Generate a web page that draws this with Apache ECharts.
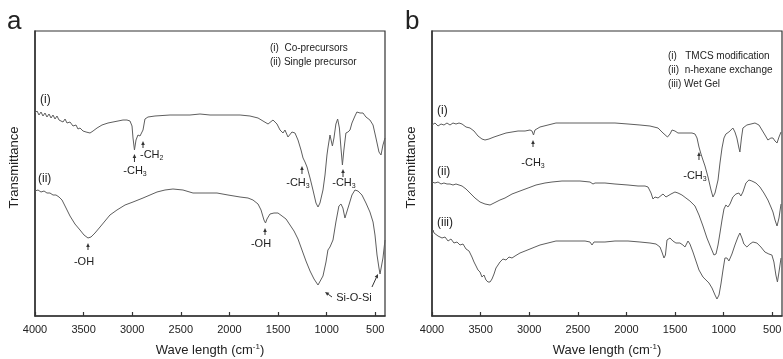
<!DOCTYPE html>
<html>
<head>
<meta charset="utf-8">
<script src="https://cdn.jsdelivr.net/npm/echarts@6/dist/echarts.min.js"></script>
<style>
html,body{margin:0;padding:0;background:#fff;}
#chart{width:783px;height:359px;}
</style>
</head>
<body>
<div id="chart"></div>
<script>
// ---- data ----
const tickValues = [4000, 3500, 3000, 2500, 2000, 1500, 1000, 500];

// Panel a, curve (i) Co-precursors : [wavenumber, transmittance (a.u.)]
const aCo = [[4000,203],[3979,205],[3959,201],[3938,204],[3918,200],[3897,203],[3877,199],[3856,202],[3835,198],[3815,201],[3794,197],[3774,200],[3753,196],[3733,198],[3712,194],[3691,197],[3671,193],[3640,194],[3609,190],[3578,191],[3558,187],[3537,188],[3506,185],[3475,184],[3455,183],[3434,183],[3403,185],[3362,188],[3311,191],[3249,193],[3198,194],[3146,195],[3095,196],[3054,196],[3023,195],[3002,190],[2992,178],[2977,166],[2961,176],[2941,181],[2920,180],[2900,178],[2889,186],[2869,197],[2838,199],[2766,200],[2611,201],[2406,201],[2303,202],[2200,201],[2046,201],[1891,201],[1789,200],[1706,198],[1655,195],[1603,192],[1552,196],[1511,192],[1480,186],[1449,183],[1429,186],[1398,179],[1357,184],[1326,183],[1295,176],[1264,166],[1243,158],[1223,154],[1202,149],[1171,138],[1141,126],[1110,113],[1089,109],[1069,113],[1038,126],[1017,141],[997,161],[987,168],[966,181],[941,170],[925,178],[905,192],[887,197],[869,188],[853,168],[838,151],[823,166],[802,183],[781,184],[760,186],[740,193],[709,200],[689,204],[657,203],[626,203],[596,199],[555,196],[523,191],[493,178],[462,164],[441,161],[421,171],[400,178]];

// Panel a, curve (ii) Single precursor
const aSingle = [[4000,125],[3969,126],[3938,124],[3907,125],[3877,123],[3846,123],[3815,121],[3784,121],[3753,119],[3722,116],[3691,110],[3640,100],[3589,92],[3537,86],[3496,81],[3455,78],[3424,79],[3383,83],[3331,89],[3280,95],[3229,101],[3157,106],[3074,111],[2992,114],[2889,118],[2817,121],[2745,124],[2663,126],[2581,127],[2478,126],[2375,123],[2251,123],[2128,123],[2015,121],[1891,119],[1809,118],[1758,116],[1706,112],[1675,106],[1645,96],[1629,93],[1614,97],[1583,102],[1542,103],[1501,103],[1459,100],[1418,97],[1377,91],[1336,85],[1295,77],[1254,66],[1213,55],[1171,45],[1130,37],[1089,31],[1069,32],[1038,40],[1007,54],[987,66],[966,69],[935,76],[905,94],[874,110],[853,112],[833,108],[812,98],[792,99],[771,111],[740,121],[709,126],[678,125],[637,121],[596,113],[555,104],[523,94],[503,81],[482,61],[462,48],[451,42],[441,44],[421,58],[400,76]];

// Panel b, curve (i) TMCS modification
const bTmcs = [[4000,191],[3969,193],[3938,190],[3907,192],[3877,191],[3846,193],[3815,191],[3784,193],[3753,192],[3722,193],[3691,192],[3650,189],[3609,188],[3568,185],[3527,180],[3486,177],[3455,176],[3414,177],[3362,179],[3301,181],[3239,183],[3177,184],[3115,185],[3043,185],[2992,186],[2971,185],[2956,181],[2941,186],[2889,189],[2807,191],[2725,193],[2581,193],[2426,193],[2272,193],[2118,193],[1984,192],[1861,191],[1758,190],[1675,188],[1624,183],[1578,179],[1552,182],[1531,186],[1501,185],[1470,183],[1398,183],[1326,183],[1295,182],[1274,178],[1254,169],[1233,162],[1213,156],[1192,150],[1161,139],[1130,126],[1110,119],[1089,123],[1058,136],[1038,153],[1017,168],[997,178],[977,182],[946,184],[905,188],[884,184],[864,178],[843,168],[833,164],[817,178],[802,188],[761,191],[719,192],[678,193],[637,191],[606,186],[575,181],[545,176],[514,178],[493,178],[472,175],[451,173],[431,179],[410,184]];

// Panel b, curve (ii) n-hexane exchange
const bHexane = [[4000,134],[3969,133],[3938,134],[3907,132],[3877,133],[3846,132],[3815,132],[3784,131],[3753,132],[3722,131],[3691,130],[3650,127],[3609,123],[3558,118],[3506,114],[3455,112],[3403,111],[3362,113],[3301,116],[3249,118],[3177,122],[3095,125],[3012,128],[2930,131],[2838,133],[2766,134],[2663,135],[2560,135],[2478,135],[2375,134],[2344,132],[2323,133],[2221,133],[2118,132],[1984,131],[1881,130],[1809,130],[1778,129],[1747,123],[1727,117],[1706,119],[1675,118],[1655,120],[1624,122],[1593,119],[1573,117],[1542,122],[1501,124],[1470,123],[1429,121],[1388,118],[1347,115],[1295,110],[1254,101],[1213,90],[1172,78],[1130,68],[1100,61],[1079,62],[1058,71],[1038,83],[1017,96],[997,107],[977,111],[956,109],[935,112],[905,119],[874,122],[843,123],[823,120],[802,124],[771,133],[740,136],[710,135],[668,133],[627,129],[586,123],[545,116],[514,109],[493,104],[472,96],[451,90],[431,98],[410,112]];

// Panel b, curve (iii) Wet Gel
const bWetGel = [[4000,81],[3990,86],[3979,83],[3959,85],[3938,80],[3918,82],[3897,78],[3866,79],[3835,75],[3805,77],[3774,73],[3743,74],[3712,71],[3681,72],[3650,67],[3619,65],[3589,59],[3568,54],[3547,50],[3527,46],[3506,44],[3486,39],[3465,41],[3445,36],[3424,34],[3403,34],[3383,37],[3362,42],[3342,48],[3321,51],[3301,54],[3270,57],[3239,56],[3208,59],[3177,58],[3146,60],[3095,63],[3043,65],[2992,67],[2941,69],[2889,71],[2807,73],[2725,75],[2632,75],[2529,75],[2426,75],[2375,74],[2354,71],[2334,74],[2221,74],[2118,75],[1984,75],[1861,74],[1758,73],[1696,72],[1655,69],[1635,64],[1614,58],[1599,61],[1583,76],[1552,78],[1522,75],[1491,73],[1450,73],[1419,71],[1398,69],[1367,75],[1347,72],[1316,64],[1285,55],[1254,46],[1213,39],[1182,36],[1151,33],[1120,28],[1089,21],[1069,17],[1048,21],[1028,32],[1007,46],[987,58],[966,58],[946,55],[915,62],[884,71],[853,79],[833,83],[812,78],[792,72],[761,69],[730,72],[699,74],[658,73],[617,69],[576,64],[535,62],[504,61],[483,54],[463,41],[447,34],[431,44],[410,58]];

// Peak annotations: arrows [tailWn, tailT, headWn, headT]
const arrowsA = [[2977,154,2977,162],[2889,168,2889,175],[1254,142,1254,150],[832,139,832,147],[3455,66,3455,73],[1634,81,1634,88],[945,19,1017,24],[534,29,472,42]];
const arrowsB = [[2961,169,2961,176],[1254,156,1254,164]];
// Peak labels: [wn, T], with texts and anchors
const labelPosA = [[2971,145],[2920,161],[1295,133],[822,133],[3496,54],[1675,72],[719,18]];
const labelTextA = ['-CH{s|3}','-CH{s|2}','-CH{s|3}','-CH{s|3}','-OH','-OH','Si-O-Si'];
const labelAlignA = ['center','left','center','center','center','center','center'];
const labelPosB = [[2961,153],[1295,140]];
const labelTextB = ['-CH{s|3}','-CH{s|3}'];
const labelAlignB = ['center','center'];

const legendA = ['(i)  Co-precursors', '(ii) Single precursor'];
const legendB = ['(i)   TMCS modification', '(ii)  n-hexane exchange', '(iii) Wet Gel'];
const curveTagsA = ['(i)', '(ii)'];
const curveTagsB = ['(i)', '(ii)', '(iii)'];

// ---- chart ----
const FONT = 'Liberation Sans, Arial, sans-serif';
const LINE = '#5e5e5e';
const AX = '#333';
const chart = echarts.init(document.getElementById('chart'), null, {renderer: 'canvas'});

function xAxisCfg(gi) {
  return {
    type: 'value', gridIndex: gi, inverse: true, min: 400, max: 4000,
    axisLine: {show: true, lineStyle: {color: AX, width: 1.5}},
    axisTick: {show: true, inside: true, length: 4, customValues: tickValues, lineStyle: {color: AX, width: 1.2}},
    axisLabel: {show: true, customValues: tickValues, margin: 8, color: '#222', fontSize: 11, fontFamily: FONT,
      formatter: function (v) { return String(v); }},
    splitLine: {show: false},
    name: 'Wave length (cm{sup|-1})',
    nameLocation: 'middle', nameGap: 27,
    nameTextStyle: {color: '#222', fontSize: 13, fontFamily: FONT,
      rich: {sup: {fontSize: 8, fontFamily: FONT, color: '#222', padding: [0, 0, 7, 0]}}}
  };
}
function yAxisCfg(gi) {
  return {
    type: 'value', gridIndex: gi, min: 0, max: 285,
    axisLine: {show: true, lineStyle: {color: AX, width: 1.5}},
    axisTick: {show: false}, axisLabel: {show: false}, splitLine: {show: false},
    name: 'Transmittance', nameLocation: 'middle', nameGap: 14, nameRotate: 90,
    nameTextStyle: {color: '#222', fontSize: 13, fontFamily: FONT, padding: [0, 0, 0, 12]}
  };
}
function lineSeries(data, gi) {
  return {type: 'line', xAxisIndex: gi, yAxisIndex: gi, data: data, showSymbol: false,
    lineStyle: {color: LINE, width: 1}, silent: true, animation: false};
}
function arrowSeries(data, gi) {
  return {
    type: 'custom', xAxisIndex: gi, yAxisIndex: gi, data: data, animation: false, silent: true,
    encode: {x: [0, 2], y: [1, 3]},
    renderItem: function (params, api) {
      const p1 = api.coord([api.value(0), api.value(1)]);
      const p2 = api.coord([api.value(2), api.value(3)]);
      const dx = p2[0] - p1[0], dy = p2[1] - p1[1];
      const len = Math.sqrt(dx * dx + dy * dy) || 1;
      const ux = dx / len, uy = dy / len;
      const hl = 4, hw = 1.8;
      const bx = p2[0] - ux * hl, by = p2[1] - uy * hl;
      return {type: 'group', children: [
        {type: 'line', shape: {x1: p1[0], y1: p1[1], x2: bx, y2: by}, style: {stroke: '#333', lineWidth: 1}},
        {type: 'polygon', shape: {points: [[p2[0], p2[1]], [bx - uy * hw, by + ux * hw], [bx + uy * hw, by - ux * hw]]}, style: {fill: '#333'}}
      ]};
    }
  };
}
function labelSeries(pos, texts, aligns, gi) {
  return {
    type: 'custom', xAxisIndex: gi, yAxisIndex: gi, data: pos, animation: false, silent: true,
    renderItem: function (params, api) {
      const p = api.coord([api.value(0), api.value(1)]);
      return {type: 'text', x: p[0], y: p[1], style: {
        text: texts[params.dataIndex], fill: '#222', fontSize: 11, fontFamily: FONT,
        align: aligns[params.dataIndex], verticalAlign: 'middle',
        rich: {s: {fontSize: 7, fontFamily: FONT, fill: '#222', padding: [7, 0, 0, 0]}}
      }};
    }
  };
}
function txt(x, y, text, size, align) {
  return {type: 'text', x: x, y: y, style: {text: text, fill: '#222', fontSize: size, fontFamily: FONT, align: align || 'left', verticalAlign: 'middle'}};
}

const graphics = [
  txt(7, 22, 'a', 26), txt(405, 22, 'b', 26),
  txt(270, 48, legendA[0], 10), txt(270, 62, legendA[1], 10),
  txt(668, 56, legendB[0], 10), txt(668, 70, legendB[1], 10), txt(668, 84, legendB[2], 10),
  txt(40, 100, curveTagsA[0], 12), txt(38, 179, curveTagsA[1], 12),
  txt(437, 111, curveTagsB[0], 12), txt(437, 172, curveTagsB[1], 12), txt(437, 223, curveTagsB[2], 12)
];

chart.setOption({
  animation: false,
  backgroundColor: '#fff',
  grid: [
    {left: 35, top: 31, width: 350, height: 285, show: true, borderColor: AX, borderWidth: 1.2, containLabel: false, outerBoundsMode: 'none'},
    {left: 432, top: 31, width: 350, height: 285, show: true, borderColor: AX, borderWidth: 1.2, containLabel: false, outerBoundsMode: 'none'}
  ],
  xAxis: [xAxisCfg(0), xAxisCfg(1)],
  yAxis: [yAxisCfg(0), yAxisCfg(1)],
  series: [
    lineSeries(aCo, 0), lineSeries(aSingle, 0),
    lineSeries(bTmcs, 1), lineSeries(bHexane, 1), lineSeries(bWetGel, 1),
    arrowSeries(arrowsA, 0), arrowSeries(arrowsB, 1),
    labelSeries(labelPosA, labelTextA, labelAlignA, 0),
    labelSeries(labelPosB, labelTextB, labelAlignB, 1)
  ],
  graphic: graphics
});
</script>
</body>
</html>
